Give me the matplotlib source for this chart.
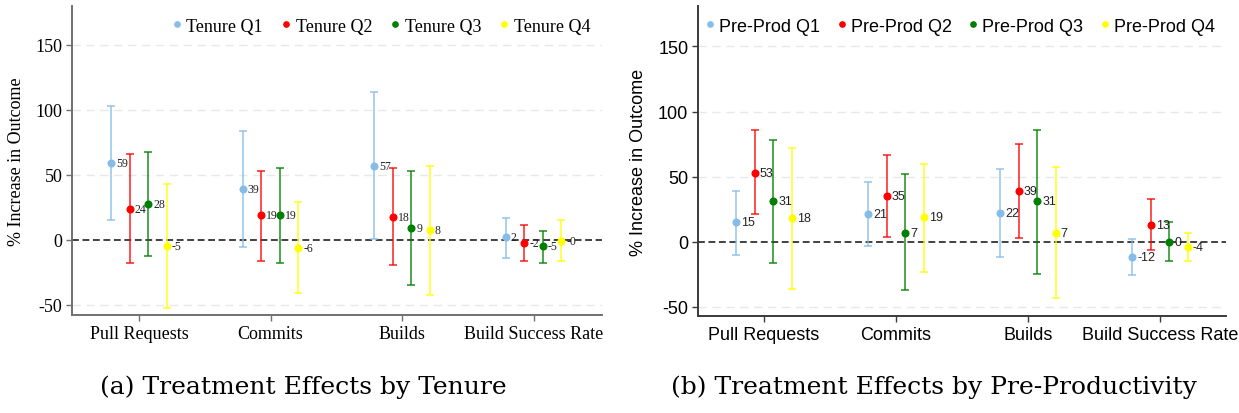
import matplotlib
matplotlib.use("Agg")
import matplotlib.pyplot as plt
from matplotlib.lines import Line2D
import numpy as np

categories = ["Pull Requests", "Commits", "Builds", "Build Success Rate"]

# Panel (a): Tenure quartiles
tenure_labels = ["Tenure Q1", "Tenure Q2", "Tenure Q3", "Tenure Q4"]
tenure_est = [[59, 39, 57, 2], [24, 19, 18, -2], [28, 19, 9, -5], [-5, -6, 8, -0.5]]
tenure_lo = [[15.5, -5.5, 0.5, -13.5], [-17.5, -16, -19.5, -16], [-12, -17.5, -35, -17.5], [-52, -41, -42, -16]]
tenure_hi = [[103, 84, 113.5, 17], [66.5, 53, 55.5, 11.5], [67.5, 55, 53, 7], [43, 29, 57, 15]]
tenure_text = [["59", "39", "57", "2"], ["24", "19", "18", "-2"], ["28", "19", "9", "-5"], ["-5", "-6", "8", "-0"]]

# Panel (b): Pre-productivity quartiles
prod_labels = ["Pre-Prod Q1", "Pre-Prod Q2", "Pre-Prod Q3", "Pre-Prod Q4"]
prod_est = [[15, 21, 22, -12], [53, 35, 39, 13], [31, 7, 31, 0], [18, 19, 7, -4]]
prod_lo = [[-10.5, -3.5, -11.5, -25.5], [21, 3.5, 3, -6.5], [-16.5, -37, -24.5, -15], [-36, -23, -43, -15]]
prod_hi = [[39, 46, 56, 2.5], [85.5, 66.5, 75, 32.5], [78, 52, 85.5, 15.5], [72, 60, 57.5, 7]]
prod_text = [["15", "21", "22", "-12"], ["53", "35", "39", "13"], ["31", "7", "31", "0"], ["18", "19", "7", "-4"]]

colors = ["#86bde8", "#ff0000", "#007f00", "#ffff00"]
offsets = [-0.21, -0.07, 0.07, 0.21]

W, H = 1239, 414
fig = plt.figure(figsize=(W / 100, H / 100), dpi=100)


def px_axes(x0, x1, ytop, ybot):
    return fig.add_axes([x0 / W, (H - ybot) / H, (x1 - x0) / W, (ybot - ytop) / H])


def panel(ax, est, lo, hi, txt, labels, family, fs, ann_fs, xlim, ylim,
          spine_color, leg_x, colspace, ylab_x):
    x = np.arange(1, len(categories) + 1)
    for g in range(4):
        e = np.array(est[g], dtype=float)
        l = np.array(lo[g], dtype=float)
        h = np.array(hi[g], dtype=float)
        xs = x + offsets[g]
        ax.errorbar(xs, e, yerr=[e - l, h - e], fmt="none", ecolor=colors[g], elinewidth=1.3,
                    capsize=3.2, capthick=1.3, alpha=0.75, zorder=3)
        ax.plot(xs, e, "o", color=colors[g], markersize=4.8, zorder=4, linestyle="none")
        for xi, yi, t in zip(xs, e, txt[g]):
            ax.annotate(t, (xi, yi), xytext=(3.5, 0), textcoords="offset points", va="center",
                        ha="left", fontsize=ann_fs, family=family, color="#222222", zorder=5)
    for yv in [-50, 50, 100, 150]:
        ax.axhline(yv, color="#e8e8e8", lw=1.0, dashes=(6, 4), zorder=1)
    ax.axhline(0, color="#333333", lw=1.3, dashes=(3.8, 2.0), zorder=2)
    ax.set_xlim(*xlim)
    ax.set_ylim(*ylim)
    ax.set_xticks(x)
    ax.set_xticklabels(categories, family=family, fontsize=fs)
    ax.set_yticks([-50, 0, 50, 100, 150])
    ax.set_yticklabels(["-50", "0", "50", "100", "150"], family=family, fontsize=fs)
    ax.set_ylabel("% Increase in Outcome", family=family, fontsize=fs)
    ax.yaxis.set_label_coords(ylab_x, 0.5)
    for s in ["top", "right"]:
        ax.spines[s].set_visible(False)
    for s in ["left", "bottom"]:
        ax.spines[s].set_color(spine_color)
        ax.spines[s].set_linewidth(1.4)
    ax.tick_params(axis="both", length=4, width=1.0, color=spine_color, pad=3)
    handles = [Line2D([], [], marker="o", color=colors[g], linestyle="none", markersize=3.8)
               for g in range(4)]
    ax.legend(handles, labels, loc="center", bbox_to_anchor=(leg_x, 0.935), ncol=4, frameon=False,
              prop={"family": family, "size": fs}, handletextpad=0.2, columnspacing=colspace,
              handlelength=0.6, borderpad=0)


ax1 = px_axes(72, 602, 7, 316)
panel(ax1, tenure_est, tenure_lo, tenure_hi, tenure_text, tenure_labels, "Liberation Serif",
      13, 8.5, (0.49, 4.52), (-57.7, 180), "#707070", 0.583, 1.0, -0.089)

ax2 = px_axes(698, 1226, 7, 317)
panel(ax2, prod_est, prod_lo, prod_hi, prod_text, prod_labels, "Liberation Sans",
      13, 9, (0.5, 4.5), (-57, 181), "#3a3a3a", 0.496, 0.9, -0.0966)

fig.text(303 / W, 1 - 387 / H, "(a) Treatment Effects by Tenure", ha="center", va="center",
         family="DejaVu Serif", fontsize=18)
fig.text(934 / W, 1 - 387 / H, "(b) Treatment Effects by Pre-Productivity", ha="center", va="center",
         family="DejaVu Serif", fontsize=18)

fig.savefig("out.png", dpi=100)
